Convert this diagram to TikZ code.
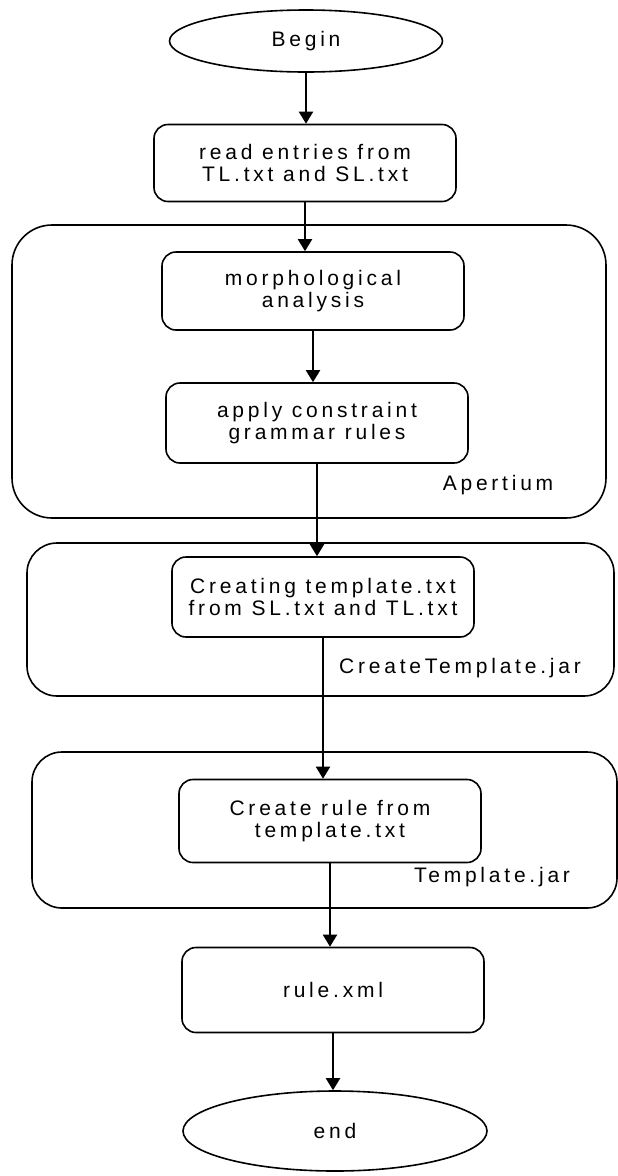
\documentclass[tikz,border=0pt]{standalone}
\usepackage{fontspec}
\setsansfont{Liberation Sans}[LetterSpace=18]
\usetikzlibrary{arrows.meta,shapes.geometric}

\tikzset{
  stepbox/.style={draw, line width=1.6pt, rounded corners=14pt, minimum width=302pt, minimum height=80pt, align=center, inner sep=0pt},
  termnode/.style={draw, ellipse, line width=1.6pt, inner sep=0pt},
  groupbox/.style={draw, line width=1.6pt, inner sep=0pt},
  grouplabel/.style={inner sep=0pt},
  flow/.style={line width=2pt, -{Triangle[width=14pt,length=12pt]}},
}

\begin{document}
\begin{tikzpicture}[x=1pt,y=-1pt,font=\sffamily\fontsize{21}{22}\selectfont]
\useasboundingbox (0,0) rectangle (618,1176);

% tool groups
\node[groupbox, rounded corners=40pt, minimum width=594pt, minimum height=293pt] (apertium) at (309,371.5) {};
\node[groupbox, rounded corners=30pt, minimum width=587pt, minimum height=153pt] (createtpl) at (320.5,619.5) {};
\node[groupbox, rounded corners=30pt, minimum width=585pt, minimum height=156pt] (tpljar) at (324.5,830) {};
\node[grouplabel] (apertiumlbl) at (498,485) {Apertium};
\node[grouplabel] (createtpllbl) at (460,668) {CreateTemplate.jar};
\node[grouplabel] (tpljarlbl) at (492,877) {Template.jar};

% steps
\node[termnode, minimum width=273pt, minimum height=62pt] (start) at (306,41) {Begin};
\node[stepbox, minimum height=77pt] (read) at (305,163) {read entries from\\TL.txt and SL.txt};
\node[stepbox, minimum height=78pt] (morph) at (313,291) {morphological\\analysis};
\node[stepbox] (apply) at (317,423) {apply constraint\\grammar rules};
\node[stepbox] (creating) at (323,597) {Creating template.txt\\from SL.txt and TL.txt};
\node[stepbox, minimum height=83pt] (createrule) at (330,821) {Create rule from\\template.txt};
\node[stepbox, minimum height=85pt] (rulexml) at (333,990) {rule.xml};
\node[termnode, minimum width=304pt, minimum height=80pt] (finish) at (335,1131) {end};

% flow
\draw[flow] (start.south) -- (start.south |- read.north);
\draw[flow] (read.south) -- (read.south |- morph.north);
\draw[flow] (morph.south) -- (morph.south |- apply.north);
\draw[flow] (apply.south) -- (apply.south |- creating.north);
\draw[flow] (creating.south) -- (creating.south |- createrule.north);
\draw[flow] (createrule.south) -- (createrule.south |- rulexml.north);
\draw[flow] (rulexml.south) -- (rulexml.south |- finish.north);
\end{tikzpicture}
\end{document}
